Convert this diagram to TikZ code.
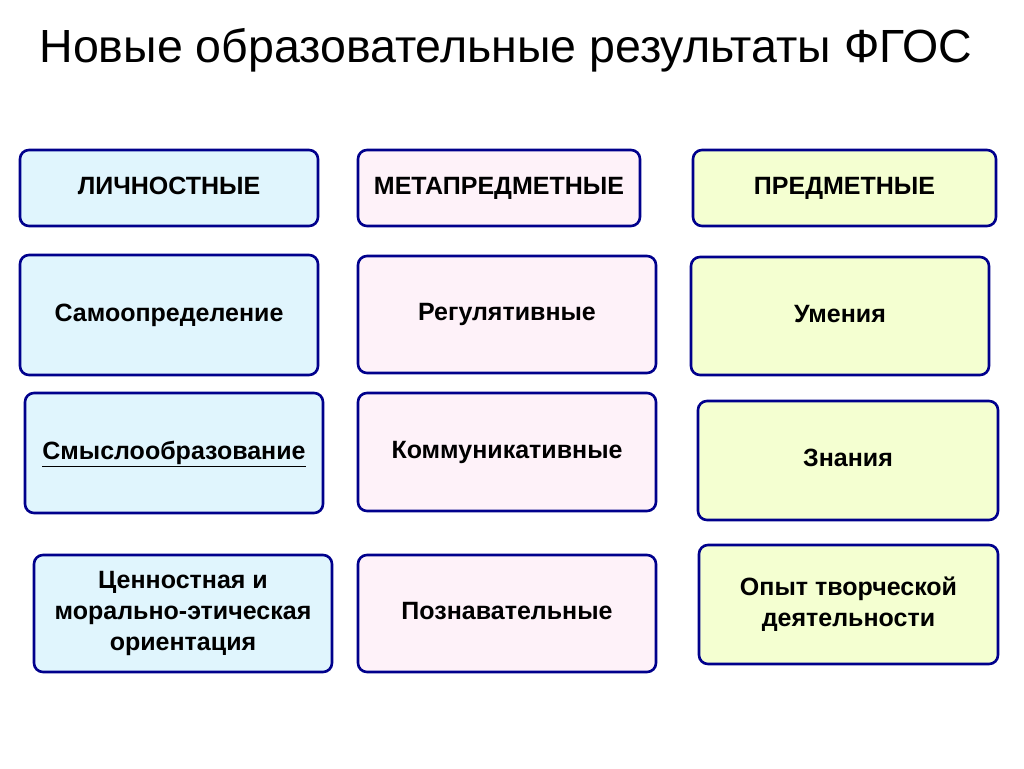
\documentclass[tikz,border=0pt]{standalone}
\usepackage{fontspec}
\setmainfont{Liberation Sans}
\begin{document}
\begin{tikzpicture}[x=1pt,y=-1pt,
  box/.style={draw=blue!55!black,line width=2.6pt,rounded corners=9pt,align=center,
    font=\fontsize{25}{31}\selectfont\bfseries,inner sep=0pt},
  lb/.style={box,fill=cyan!12},
  mb/.style={box,fill=magenta!5},
  rb/.style={box,fill=lime!18}]
\useasboundingbox (0,0) rectangle (1024,768);
\newcommand\bx[7]{\node[#1,minimum width=#4-#2,minimum height=#5-#3] (#6) at ({(#2+#4)/2},{(#3+#5)/2}) {\raisebox{-4pt}{\begin{tabular}{@{}c@{}}#7\end{tabular}}};}
\node[font=\fontsize{46.5}{54}\selectfont,anchor=west] (title) at (36,50) {Новые образовательные результаты ФГОС};
\bx{lb}{20}{150}{318}{226}{l1}{ЛИЧНОСТНЫЕ}
\bx{mb}{358}{150}{640}{226}{m1}{МЕТАПРЕДМЕТНЫЕ}
\bx{rb}{693}{150}{996}{226}{r1}{ПРЕДМЕТНЫЕ}
\bx{lb}{20}{255}{318}{375}{l2}{Самоопределение}
\bx{mb}{358}{256}{656}{373}{m2}{Регулятивные}
\bx{rb}{691}{257}{989}{375}{r2}{Умения}
\bx{lb}{25}{393}{323}{513}{l3}{\underline{Смыслообразование}}
\bx{mb}{358}{393}{656}{511}{m3}{Коммуникативные}
\bx{rb}{698}{401}{998}{520}{r3}{Знания}
\bx{lb}{34}{555}{332}{672}{l4}{Ценностная и\\морально-этическая\\ориентация}
\bx{mb}{358}{555}{656}{672}{m4}{Познавательные}
\bx{rb}{699}{545}{998}{664}{r4}{Опыт творческой\\деятельности}
\end{tikzpicture}
\end{document}
